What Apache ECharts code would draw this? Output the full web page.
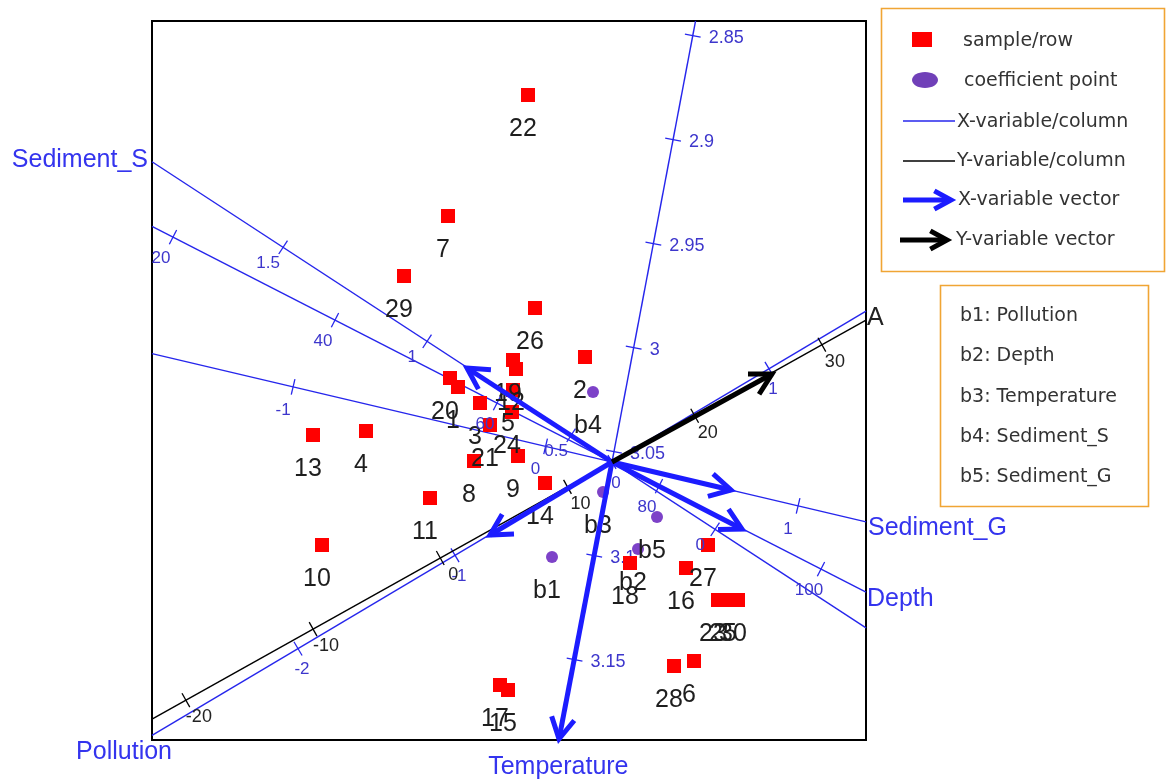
<!DOCTYPE html>
<html><head><meta charset="utf-8">
<script src="https://cdn.jsdelivr.net/npm/echarts@6/dist/echarts.min.js"></script>
<style>html,body{margin:0;padding:0;background:#fff}#c{width:1166px;height:782px}</style>
</head><body><div id="c"></div>
<script>
// ---------- data (biplot units, origin = centre of the biplot) ----------
const sampleIds = ['1','2','3','4','5','6','7','8','9','10','11','12','13','14','15','16','17','18','19','20','21','22','23','24','25','26','27','28','29','30'];
const sampleX = [-1.54,-0.27,-1.32,-2.46,-0.99,0.82,-1.64,-1.38,-0.94,-2.90,-1.82,-0.96,-2.99,-0.67,-1.04,0.74,-1.12,0.18,-0.99,-1.62,-1.22,-0.84,1.06,-1.00,1.16,-0.77,0.96,0.62,-2.08,1.26];
const sampleY = [0.75,1.05,0.59,0.31,0.72,-1.99,2.46,0.01,0.06,-0.83,-0.36,0.93,0.27,-0.21,-2.28,-1.06,-2.23,-1.01,1.02,0.84,0.37,3.67,-1.38,0.50,-1.38,1.54,-0.83,-2.04,1.86,-1.38];

const coefIds = ['b1','b2','b3','b4','b5'];
const coefX = [-0.60,0.26,-0.09,-0.19,0.45];
const coefY = [-0.95,-0.87,-0.30,0.70,-0.55];

// X-variables: value at the origin and displacement per unit of the variable
const xVarNames = ['Pollution','Depth','Temperature','Sediment_S','Sediment_G'];
const xVarCentre = [0, 74.2, 3.055, 0.358, 0.263];
const xVarStepX = [1.57, 0.081, -3.94, -2.88, 2.525];
const xVarStepY = [0.933, -0.0415, -20.8, 1.88, -0.595];
const pollutionTicks = [-2, -1, 0, 1];
const depthTicks = [20, 40, 60, 80, 100];
const temperatureTicks = [2.85, 2.9, 2.95, 3, 3.05, 3.1, 3.15];
const sedimentSTicks = [0, 0.5, 1, 1.5];
const sedimentGTicks = [-1, 0, 1];
const xVectorX = [-1.22, 1.30, -0.53, -1.45, 1.19];
const xVectorY = [-0.73, -0.67, -2.77, 0.94, -0.28];

// Y-variable
const yVarName = 'A';
const yVarCentre = 13.5;
const yVarStepX = 0.1272;
const yVarStepY = 0.0711;
const yVarTicks = [-20, -10, 0, 10, 20, 30];
const yVectorX = 1.60;
const yVectorY = 0.88;

// ---------- layout / style ----------
const X_MIN = -4.6, X_MAX = 2.54, Y_MIN = -2.78, Y_MAX = 4.41;
const BLUE = '#2626ec', TICK_TXT = '#3d36cc', NAME_BLUE = '#3434ee';
const SANS = '"Liberation Sans", Arial, sans-serif';
const LEG = '"DejaVu Sans", sans-serif';

const xVarTicks = [pollutionTicks, depthTicks, temperatureTicks, sedimentSTicks, sedimentGTicks];
const axes = xVarNames.map((n, i) => ({name: n, c: xVarCentre[i], sx: xVarStepX[i], sy: xVarStepY[i], ticks: xVarTicks[i], color: BLUE, txt: TICK_TXT, nameColor: NAME_BLUE}));
axes.push({name: yVarName, c: yVarCentre, sx: yVarStepX, sy: yVarStepY, ticks: yVarTicks, color: '#000', txt: '#222', nameColor: '#222'});

// style per axis: tick-label offsets and name placement
const tickLabDx = [4, -12, 16, -15, -10, 13];
const tickLabDy = [21, 21, 2, 16, 23, 17];
const tickLabAlign = ['center', 'center', 'left', 'center', 'center', 'center'];
const tickFont = [17, 17, 18, 17, 17, 18];
const nameEnd = [0, 1, 1, 1, 1, 1];
const nameDx = [20, 1, -1, -4, 2, 1];
const nameDy = [17, 7, 27, -2, 6, -2];
const nameAlign = ['right', 'left', 'center', 'right', 'left', 'left'];

function clipRange(sx, sy) {
  let tmin = -Infinity, tmax = Infinity;
  [[sx, X_MIN, X_MAX], [sy, Y_MIN, Y_MAX]].forEach(([d, lo, hi]) => {
    if (Math.abs(d) < 1e-12) return;
    let a = lo / d, b = hi / d;
    if (a > b) { const t = a; a = b; b = t; }
    if (a > tmin) tmin = a;
    if (b < tmax) tmax = b;
  });
  return [tmin, tmax];
}

const chart = echarts.init(document.getElementById('c'), null, {renderer: 'canvas'});

function axisLineItem(params, api) {
  const k = api.value(0);
  const ax = axes[k];
  const [t0, t1] = clipRange(ax.sx, ax.sy);
  const p0 = api.coord([t0 * ax.sx, t0 * ax.sy]);
  const p1 = api.coord([t1 * ax.sx, t1 * ax.sy]);
  const children = [{type: 'line', shape: {x1: p0[0], y1: p0[1], x2: p1[0], y2: p1[1]}, style: {stroke: ax.color, lineWidth: 1.4}}];
  const len = Math.hypot(p1[0] - p0[0], p1[1] - p0[1]);
  const nx = -(p1[1] - p0[1]) / len, ny = (p1[0] - p0[0]) / len;
  ax.ticks.forEach(v => {
    const t = v - ax.c;
    if (t < t0 || t > t1) return;
    const p = api.coord([t * ax.sx, t * ax.sy]);
    children.push({type: 'line', shape: {x1: p[0] - nx * 8, y1: p[1] - ny * 8, x2: p[0] + nx * 8, y2: p[1] + ny * 8}, style: {stroke: ax.color, lineWidth: 1.3}});
  });
  const pe = nameEnd[k] ? p1 : p0;
  children.push({type: 'text', x: pe[0] + nameDx[k], y: pe[1] + nameDy[k],
    style: {text: ax.name, fill: ax.nameColor, font: '25px ' + SANS, textAlign: nameAlign[k], textVerticalAlign: 'middle'}});
  return {type: 'group', children};
}

function tickLabelItem(params, api) {
  const k = api.value(0), v = api.value(1);
  const ax = axes[k];
  const [t0, t1] = clipRange(ax.sx, ax.sy);
  const t = v - ax.c;
  if (t < t0 || t > t1) return null;
  const p = api.coord([t * ax.sx, t * ax.sy]);
  return {type: 'text', x: p[0] + tickLabDx[k], y: p[1] + tickLabDy[k],
    style: {text: String(v), fill: ax.txt, font: tickFont[k] + 'px ' + SANS, textAlign: tickLabAlign[k], textVerticalAlign: 'middle'}};
}

function arrowShapes(x1, y1, x2, y2, color, w, L) {
  const a = Math.atan2(y2 - y1, x2 - x1), s = 0.5;
  return [
    {type: 'line', shape: {x1, y1, x2, y2}, style: {stroke: color, lineWidth: w}},
    {type: 'polyline', shape: {points: [[x2 - L * Math.cos(a - s), y2 - L * Math.sin(a - s)], [x2, y2], [x2 - L * Math.cos(a + s), y2 - L * Math.sin(a + s)]]},
      style: {stroke: color, lineWidth: w, fill: null, lineJoin: 'miter'}}
  ];
}

function vectorItem(params, api) {
  const o = api.coord([0, 0]);
  const p = api.coord([api.value(0), api.value(1)]);
  const color = api.value(2) === 1 ? '#000' : '#1c1cff';
  return {type: 'group', children: arrowShapes(o[0], o[1], p[0], p[1], color, 5, 24)};
}

const tempLabelData = [], otherLabelData = [];
axes.forEach((ax, k) => ax.ticks.forEach(v => (k === 2 ? tempLabelData : otherLabelData).push([k, v])));

const vectorData = xVectorX.map((x, i) => [x, xVectorY[i], 0]);
vectorData.push([yVectorX, yVectorY, 1]);

function legArrow(x1, x2, y, color) {
  return arrowShapes(x1, y, x2, y, color, 5, 19).map(s => Object.assign(s, {z: 10}));
}

chart.setOption({
  animation: false,
  backgroundColor: '#fff',
  grid: {left: 152, top: 21, width: 714, height: 719, show: true, borderColor: '#000', borderWidth: 2, backgroundColor: '#fff'},
  xAxis: {type: 'value', min: X_MIN, max: X_MAX, show: false},
  yAxis: {type: 'value', min: Y_MIN, max: Y_MAX, show: false},
  series: [
    {type: 'custom', name: 'axes', z: 2, clip: false, data: axes.map((a, k) => [k, 0]), renderItem: axisLineItem, silent: true},
    {type: 'custom', name: 'tempLabels', z: 2, clip: false, data: tempLabelData, renderItem: tickLabelItem, silent: true},
    {type: 'scatter', name: 'sample/row', z: 3, symbol: 'rect', symbolSize: 14,
      itemStyle: {color: '#ff0000', opacity: 1},
      data: sampleX.map((x, i) => [x, sampleY[i], sampleIds[i]]),
      label: {show: true, position: 'bottom', distance: 15, offset: [-5, 0], formatter: p => p.value[2],
        color: '#1e1e1e', fontSize: 25, fontFamily: SANS, lineHeight: 25}},
    {type: 'scatter', name: 'coefficient point', z: 3, symbol: 'circle', symbolSize: 12,
      itemStyle: {color: '#7d42c8', opacity: 1},
      data: coefX.map((x, i) => [x, coefY[i], coefIds[i]]),
      label: {show: true, position: 'bottom', distance: 16, offset: [-5, 0], formatter: p => p.value[2],
        color: '#1e1e1e', fontSize: 25, fontFamily: SANS, lineHeight: 25}},
    {type: 'custom', name: 'tickLabels', z: 4, clip: false, data: otherLabelData, renderItem: tickLabelItem, silent: true},
    {type: 'custom', name: 'vectors', z: 5, clip: false, data: vectorData, renderItem: vectorItem, silent: true}
  ],
  graphic: [
    {type: 'rect', shape: {x: 881.5, y: 8.5, width: 283, height: 263}, style: {fill: '#fff', stroke: '#f0a534', lineWidth: 1.6}},
    {type: 'rect', shape: {x: 912, y: 32, width: 20, height: 15}, style: {fill: '#ff0000'}},
    {type: 'ellipse', shape: {cx: 925, cy: 80, rx: 13, ry: 8}, style: {fill: '#7040b8'}},
    {type: 'line', shape: {x1: 903, y1: 121, x2: 955, y2: 121}, style: {stroke: BLUE, lineWidth: 1.5}},
    {type: 'line', shape: {x1: 903, y1: 161, x2: 955, y2: 161}, style: {stroke: '#000', lineWidth: 1.5}},
    ...legArrow(903, 951, 200, '#1c1cff'),
    ...legArrow(900, 947, 240, '#000'),
    {type: 'text', x: 963, y: 41, style: {text: 'sample/row', font: '19px ' + LEG, fill: '#333', textVerticalAlign: 'middle'}},
    {type: 'text', x: 964, y: 81, style: {text: 'coefficient point', font: '19px ' + LEG, fill: '#333', textVerticalAlign: 'middle'}},
    {type: 'text', x: 957, y: 122, style: {text: 'X-variable/column', font: '19px ' + LEG, fill: '#333', textVerticalAlign: 'middle'}},
    {type: 'text', x: 957, y: 161, style: {text: 'Y-variable/column', font: '19px ' + LEG, fill: '#333', textVerticalAlign: 'middle'}},
    {type: 'text', x: 958, y: 200, style: {text: 'X-variable vector', font: '19px ' + LEG, fill: '#333', textVerticalAlign: 'middle'}},
    {type: 'text', x: 956, y: 240, style: {text: 'Y-variable vector', font: '19px ' + LEG, fill: '#333', textVerticalAlign: 'middle'}},
    {type: 'rect', shape: {x: 940.5, y: 285.5, width: 208, height: 221}, style: {fill: '#fff', stroke: '#f0a534', lineWidth: 1.6}},
    ...coefIds.map((b, i) => ({type: 'text', x: 960, y: 316 + i * 40.3,
      style: {text: b + ': ' + xVarNames[i], font: '19px ' + LEG, fill: '#333', textVerticalAlign: 'middle'}}))
  ]
});
</script></body></html>
